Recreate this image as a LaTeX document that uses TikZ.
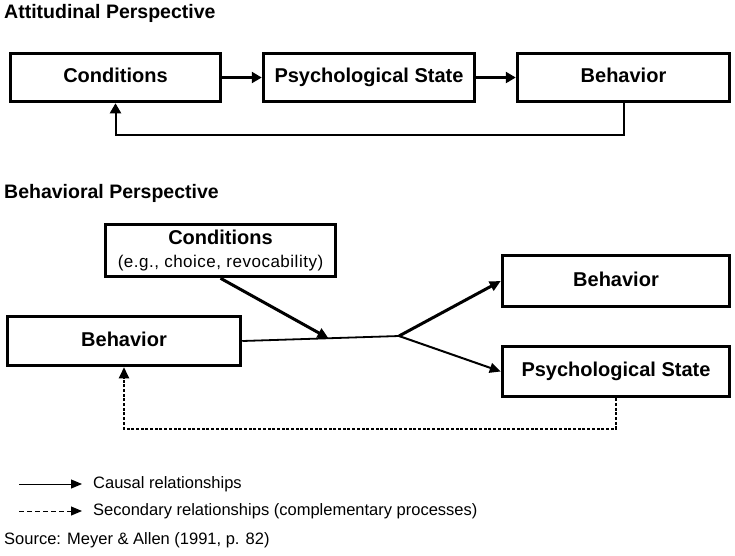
\documentclass[tikz,border=0pt]{standalone}
\usepackage{fontspec}
\setmainfont{Liberation Sans}
\usepackage{tikz}
\usetikzlibrary{calc,arrows.meta}
\tikzset{
  box/.style={draw=black, line width=3.5pt, inner sep=0pt, font=\bfseries\fontsize{20}{23}\selectfont},
  one/.style={text height=14.5pt, text depth=4pt},
  head/.style={font=\bfseries\fontsize{19.5}{22}\selectfont, anchor=base west, inner sep=0pt},
  lab/.style={font=\fontsize{16.5}{19}\selectfont, anchor=west, inner sep=0pt},
  tip/.style={-{Triangle[length=10pt,width=11pt]}},
  tipm/.style={-{Triangle[length=11pt,width=10pt]}},
  tips/.style={-{Triangle[length=11pt,width=9pt]}},
  second/.style={dash pattern=on 3pt off 1.7pt},
  legdash/.style={dash pattern=on 5pt off 3pt},
}

\begin{document}
\begin{tikzpicture}[x=1pt,y=-1pt]
  \useasboundingbox (0,0) rectangle (735,555);
  % attitudinal perspective
  \node[head] (t1) at (4,18) {Attitudinal Perspective};
  \node[box, one, minimum width=210pt, minimum height=48pt] (c1) at (115.5,77.5) {Conditions};
  \node[box, one, minimum width=211pt, minimum height=48pt] (p1) at (369,77.5) {Psychological State};
  \node[box, one, minimum width=212pt, minimum height=48pt] (b1) at (623.5,77.5) {Behavior};
  \draw[tip, line width=3pt] (c1) -- (p1);
  \draw[tip, line width=3pt] (p1) -- (b1);
  \draw[tip, line width=2pt] (b1.south) -- ++(0,31.5) -| (c1.south);
  % behavioral perspective
  \node[head] (t2) at (4,198) {Behavioral Perspective};
  \node[box, align=center, minimum width=230pt, minimum height=52pt,
        font=\bfseries\fontsize{20}{23}\selectfont] (c2) at (220.5,250.5)
    {Conditions\\{\mdseries\fontsize{17}{23}\selectfont\addfontfeatures{LetterSpace=3}(e.g., choice, revocability)}};
  \node[box, one, minimum width=233pt, minimum height=49pt] (b2) at (124,341) {Behavior};
  \node[box, one, minimum width=227pt, minimum height=51pt] (b3) at (616,281) {Behavior};
  \node[box, one, minimum width=227pt, minimum height=50pt] (p2) at (616,371.5) {Psychological State};
  \coordinate (j) at (399,336);
  \coordinate (m) at ($(b2.east)!0.55!(j)$);
  \draw[line width=1.8pt] (b2.east) -- (j);
  \draw[tipm, line width=3pt] (c2.south) -- (m);
  \draw[tipm, line width=3pt] (j) -- (b3.west);
  \draw[tipm, line width=2pt] (j) -- (p2.west);
  \draw[tipm, second, line width=2pt] (p2.south) -- ++(0,30.5) -| (b2.south);
  % legend
  \coordinate (l1) at (19,484);
  \coordinate (l2) at (19,511);
  \node[lab] (cl) at (93,484) {Causal relationships};
  \node[lab] (sl) at (93,511) {Secondary relationships (complementary processes)};
  \draw[tips, line width=1pt] (l1) -- (cl.west -| 82,0);
  \draw[tips, legdash, line width=1pt] (l2) -- (sl.west -| 82,0);
  \node[lab] (src) at (4,540) {Source: Meyer \& Allen (1991, p. 82)};
\end{tikzpicture}
\end{document}
